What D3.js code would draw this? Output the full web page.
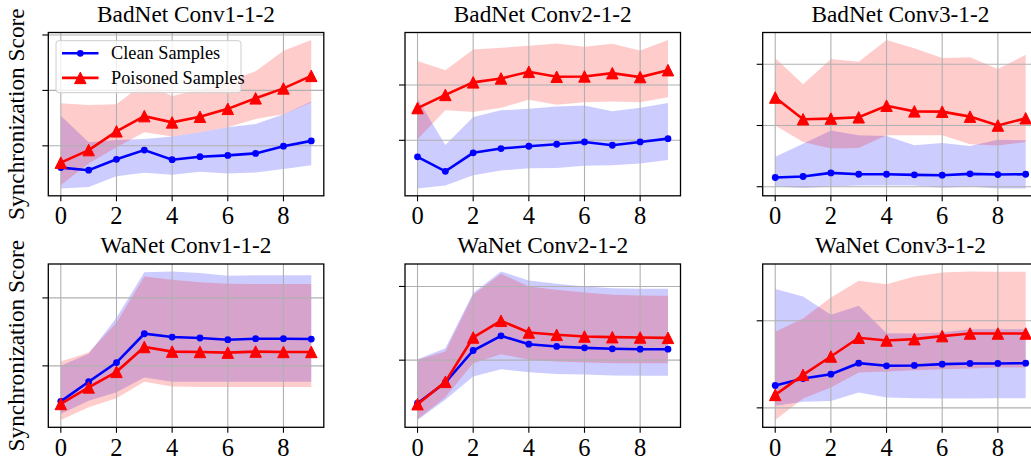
<!DOCTYPE html>
<html>
<head>
<meta charset="utf-8">
<script src="https://cdn.jsdelivr.net/npm/d3@7"></script>
<style>
  body { margin: 0; background: #fff; }
  text { font-family: "Liberation Serif", "Times New Roman", serif; }
</style>
</head>
<body>
<svg id="chart" width="1031" height="457"></svg>
<script>
// epochs on the x axis
const epochs = [0, 1, 2, 3, 4, 5, 6, 7, 8, 9];
const xTicks = [0, 2, 4, 6, 8];
const titles = ['BadNet Conv1-1-2', 'BadNet Conv2-1-2', 'BadNet Conv3-1-2',
                'WaNet Conv1-1-2', 'WaNet Conv2-1-2', 'WaNet Conv3-1-2'];
const seriesNames = ['Clean Samples', 'Poisoned Samples'];

// BadNet Conv1-1-2
const bad1Clean      = [0.607, 0.560, 0.756, 0.923, 0.750, 0.804, 0.827, 0.863, 0.994, 1.089];
const bad1CleanLow   = [0.232, 0.256, 0.452, 0.512, 0.476, 0.530, 0.500, 0.518, 0.583, 0.649];
const bad1CleanHigh  = [1.542, 1.065, 1.107, 1.125, 1.167, 1.244, 1.333, 1.393, 1.571, 1.798];
const bad1Poison     = [0.696, 0.923, 1.262, 1.536, 1.423, 1.524, 1.667, 1.857, 2.036, 2.262];
const bad1PoisonLow  = [0.292, 0.679, 0.976, 1.244, 1.167, 1.244, 1.333, 1.482, 1.571, 1.780];
const bad1PoisonHigh = [1.768, 1.738, 1.750, 2.137, 1.899, 2.018, 2.167, 2.345, 2.714, 2.911];

// BadNet Conv2-1-2
const bad2Clean      = [0.702, 0.440, 0.774, 0.851, 0.893, 0.929, 0.970, 0.911, 0.970, 1.030];
const bad2CleanLow   = [0.131, 0.185, 0.369, 0.452, 0.494, 0.500, 0.542, 0.548, 0.583, 0.643];
const bad2CleanHigh  = [1.750, 0.917, 1.423, 1.542, 1.571, 1.613, 1.631, 1.524, 1.589, 1.673];
const bad2Poison     = [1.583, 1.821, 2.048, 2.119, 2.238, 2.149, 2.155, 2.214, 2.143, 2.268];
const bad2PoisonLow  = [1.018, 1.542, 1.512, 1.589, 1.732, 1.643, 1.690, 1.702, 1.690, 1.780];
const bad2PoisonHigh = [2.435, 2.268, 2.643, 2.673, 2.708, 2.750, 2.690, 2.744, 2.625, 2.815];

// BadNet Conv3-1-2
const bad3Clean      = [1.151, 1.167, 1.226, 1.204, 1.204, 1.194, 1.188, 1.210, 1.199, 1.204];
const bad3CleanLow   = [1.005, 0.978, 1.005, 1.022, 1.022, 1.022, 0.984, 1.005, 0.973, 0.973];
const bad3CleanHigh  = [1.489, 1.704, 1.919, 1.839, 1.828, 1.677, 1.715, 1.667, 1.769, 1.758];
const bad3Poison     = [2.457, 2.102, 2.113, 2.134, 2.323, 2.231, 2.226, 2.145, 2.000, 2.118];
const bad3PoisonLow  = [2.000, 1.731, 1.624, 1.634, 1.839, 1.839, 1.839, 1.694, 1.672, 1.731];
const bad3PoisonHigh = [3.102, 2.672, 3.086, 3.043, 3.398, 3.263, 3.102, 3.113, 2.925, 3.156];

// WaNet Conv1-1-2
const wa1Clean      = [0.478, 0.766, 1.049, 1.473, 1.424, 1.410, 1.385, 1.400, 1.400, 1.395];
const wa1CleanLow   = [0.293, 0.488, 0.610, 0.829, 0.766, 0.766, 0.766, 0.766, 0.766, 0.766];
const wa1CleanHigh  = [1.000, 1.180, 1.707, 2.376, 2.390, 2.366, 2.327, 2.332, 2.332, 2.332];
const wa1Poison     = [0.439, 0.683, 0.912, 1.278, 1.210, 1.205, 1.195, 1.210, 1.205, 1.205];
const wa1PoisonLow  = [0.205, 0.390, 0.522, 0.766, 0.698, 0.688, 0.688, 0.688, 0.688, 0.688];
const wa1PoisonHigh = [1.063, 1.195, 1.634, 2.317, 2.268, 2.229, 2.210, 2.205, 2.205, 2.205];

// WaNet Conv2-1-2
const wa2Clean      = [0.416, 0.697, 1.131, 1.330, 1.217, 1.186, 1.167, 1.154, 1.149, 1.149];
const wa2CleanLow   = [0.190, 0.462, 0.778, 0.878, 0.837, 0.814, 0.805, 0.792, 0.787, 0.787];
const wa2CleanHigh  = [1.014, 1.163, 1.910, 2.204, 2.081, 2.036, 2.000, 1.977, 1.968, 1.968];
const wa2Poison     = [0.403, 0.706, 1.308, 1.534, 1.376, 1.344, 1.321, 1.312, 1.308, 1.303];
const wa2PoisonLow  = [0.199, 0.498, 0.959, 1.081, 1.005, 0.982, 0.968, 0.959, 0.959, 0.959];
const wa2PoisonHigh = [1.005, 1.118, 1.887, 2.172, 2.000, 1.955, 1.919, 1.887, 1.878, 1.873];

// WaNet Conv3-1-2
const wa3Clean      = [1.257, 1.337, 1.387, 1.513, 1.483, 1.487, 1.502, 1.510, 1.510, 1.513];
const wa3CleanLow   = [1.023, 1.069, 1.080, 1.176, 1.119, 1.111, 1.107, 1.107, 1.111, 1.111];
const wa3CleanHigh  = [2.364, 2.280, 2.069, 2.172, 1.858, 1.854, 1.866, 1.904, 1.904, 1.904];
const wa3Poison     = [1.149, 1.379, 1.590, 1.805, 1.774, 1.789, 1.824, 1.854, 1.854, 1.854];
const wa3PoisonLow  = [0.862, 1.107, 1.234, 1.406, 1.418, 1.433, 1.444, 1.452, 1.464, 1.464];
const wa3PoisonHigh = [1.874, 2.027, 2.268, 2.460, 2.421, 2.510, 2.556, 2.567, 2.563, 2.563];

// y ticks (labels are hidden in the original)
const yTicksPerPanel = [[1, 2, 3], [1, 2], [1, 2, 3], [1, 2], [1, 2], [1, 2]];

const panels = [
  [bad1Clean, bad1CleanLow, bad1CleanHigh, bad1Poison, bad1PoisonLow, bad1PoisonHigh],
  [bad2Clean, bad2CleanLow, bad2CleanHigh, bad2Poison, bad2PoisonLow, bad2PoisonHigh],
  [bad3Clean, bad3CleanLow, bad3CleanHigh, bad3Poison, bad3PoisonLow, bad3PoisonHigh],
  [wa1Clean, wa1CleanLow, wa1CleanHigh, wa1Poison, wa1PoisonLow, wa1PoisonHigh],
  [wa2Clean, wa2CleanLow, wa2CleanHigh, wa2Poison, wa2PoisonLow, wa2PoisonHigh],
  [wa3Clean, wa3CleanLow, wa3CleanHigh, wa3Poison, wa3PoisonLow, wa3PoisonHigh],
];

const svg = d3.select('#chart');
svg.append('rect').attr('width', 1031).attr('height', 457).attr('fill', '#fff');

const colLeft = [48.3, 405, 762.7];
const rowTop = [32.5, 264];
const W = 275.5, H = 163.3;
const BLUE = '#0000ff', RED = '#ff0000';

// matplotlib-style triangle marker (apex up, bbox centred)
function triangle(s) {
  return `M0,${-s / 2}L${s / 2},${s / 2}L${-s / 2},${s / 2}Z`;
}

panels.forEach((p, i) => {
  const [clean, cleanLow, cleanHigh, poison, poisonLow, poisonHigh] = p;
  const col = i % 3, row = Math.floor(i / 3);
  const g = svg.append('g').attr('transform', `translate(${colLeft[col]},${rowTop[row]})`);

  const x = d3.scaleLinear().domain([-0.45, 9.45]).range([0, W]);
  const all = [].concat(...p);
  const lo = d3.min(all), hi = d3.max(all), pad = (hi - lo) * 0.05;
  const y = d3.scaleLinear().domain([lo - pad, hi + pad]).range([H, 0]);

  g.append('clipPath').attr('id', 'clip' + i)
    .append('rect').attr('width', W).attr('height', H);
  const plot = g.append('g').attr('clip-path', `url(#clip${i})`);

  const area = (low, high) => d3.area()
    .x((d, k) => x(epochs[k]))
    .y0((d, k) => y(low[k]))
    .y1((d, k) => y(high[k]))(epochs);

  plot.append('path').attr('d', area(cleanLow, cleanHigh))
    .attr('fill', BLUE).attr('fill-opacity', 0.2);
  plot.append('path').attr('d', area(poisonLow, poisonHigh))
    .attr('fill', RED).attr('fill-opacity', 0.2);

  // grid
  plot.selectAll('.gx').data(xTicks).join('line')
    .attr('x1', d => x(d)).attr('x2', d => x(d)).attr('y1', 0).attr('y2', H)
    .attr('stroke', '#b0b0b0').attr('stroke-width', 1.1);
  plot.selectAll('.gy').data(yTicksPerPanel[i]).join('line')
    .attr('x1', 0).attr('x2', W).attr('y1', d => y(d)).attr('y2', d => y(d))
    .attr('stroke', '#b0b0b0').attr('stroke-width', 1.1);

  const line = d3.line().x((d, k) => x(epochs[k])).y(d => y(d));
  plot.append('path').attr('d', line(clean))
    .attr('fill', 'none').attr('stroke', BLUE).attr('stroke-width', 2.6);
  plot.selectAll('.dot').data(clean).join('circle')
    .attr('cx', (d, k) => x(epochs[k])).attr('cy', d => y(d)).attr('r', 3.4)
    .attr('fill', BLUE);
  plot.append('path').attr('d', line(poison))
    .attr('fill', 'none').attr('stroke', RED).attr('stroke-width', 2.6);
  plot.selectAll('.tri').data(poison).join('path')
    .attr('transform', (d, k) => `translate(${x(epochs[k])},${y(d)})`)
    .attr('d', triangle(11.5)).attr('fill', RED).attr('stroke', RED).attr('stroke-width', 1);

  // spines
  g.append('rect').attr('width', W).attr('height', H)
    .attr('fill', 'none').attr('stroke', '#000').attr('stroke-width', 1.3);

  // ticks
  g.selectAll('.tx').data(xTicks).join('line')
    .attr('x1', d => x(d)).attr('x2', d => x(d)).attr('y1', H).attr('y2', H + 5.5)
    .attr('stroke', '#000').attr('stroke-width', 1.1);
  g.selectAll('.ty').data(yTicksPerPanel[i]).join('line')
    .attr('x1', -6).attr('x2', 0).attr('y1', d => y(d)).attr('y2', d => y(d))
    .attr('stroke', '#000').attr('stroke-width', 1.1);
  g.selectAll('.lx').data(xTicks).join('text')
    .attr('x', d => x(d)).attr('y', H + 28.3)
    .attr('text-anchor', 'middle').attr('font-size', 24.5).attr('fill', '#000')
    .text(d => d);

  // title
  g.append('text').attr('x', W / 2).attr('y', -10.8)
    .attr('text-anchor', 'middle').attr('font-size', 23.3).attr('fill', '#000')
    .text(titles[i]);

  if (col === 0) {
    svg.append('text')
      .attr('transform', `translate(${23.5},${rowTop[row] + H / 2}) rotate(-90)`)
      .attr('text-anchor', 'middle').attr('font-size', 23.3).attr('fill', '#000')
      .text('Synchronization Score');
  }

  if (i === 0) {
    const lg = g.append('g').attr('transform', 'translate(7.7,8.2)');
    lg.append('rect').attr('width', 185).attr('height', 52).attr('rx', 3)
      .attr('fill', '#fff').attr('fill-opacity', 0.8)
      .attr('stroke', '#cccccc').attr('stroke-width', 1);
    const rows = lg.selectAll('.entry').data(seriesNames).join('g')
      .attr('transform', (d, k) => `translate(0,${12.6 + k * 24.6})`);
    rows.append('line').attr('x1', 6).attr('x2', 42.5)
      .attr('stroke', (d, k) => k ? RED : BLUE).attr('stroke-width', 2.6);
    rows.filter((d, k) => k === 0).append('circle')
      .attr('cx', 24.3).attr('r', 3.4).attr('fill', BLUE);
    rows.filter((d, k) => k === 1).append('path')
      .attr('transform', 'translate(24.3,0)').attr('d', triangle(11.5))
      .attr('fill', RED).attr('stroke', RED);
    rows.append('text').attr('x', 55).attr('y', 6)
      .attr('font-size', 18.3).attr('fill', '#000').text(d => d);
  }
});
</script>
</body>
</html>
